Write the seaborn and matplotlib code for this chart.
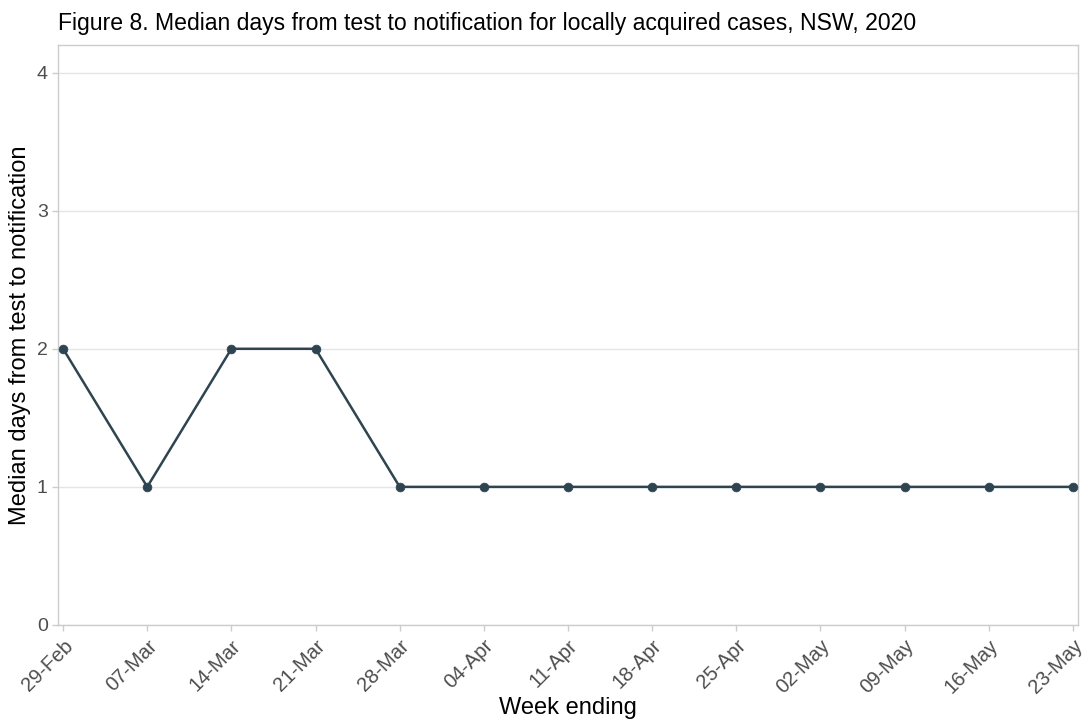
import matplotlib
matplotlib.use("Agg")
import matplotlib.pyplot as plt
import seaborn as sns
import pandas as pd

weeks = ["29-Feb", "07-Mar", "14-Mar", "21-Mar", "28-Mar", "04-Apr", "11-Apr",
         "18-Apr", "25-Apr", "02-May", "09-May", "16-May", "23-May"]
median_days = [2, 1, 2, 2, 1, 1, 1, 1, 1, 1, 1, 1, 1]
y_ticks = [0, 1, 2, 3, 4]

df = pd.DataFrame({"week": weeks, "days": median_days, "pos": range(len(weeks))})

sns.set_theme(style="white")
plt.rcParams["font.family"] = ["Liberation Sans", "DejaVu Sans"]

fig = plt.figure(figsize=(10.85, 7.2), dpi=100)
ax = fig.add_axes([0.0535, 0.132, 0.94, 0.8055])

color = "#2E4450"
sns.lineplot(data=df, x="pos", y="days", ax=ax, color=color, linewidth=1.8)
sns.scatterplot(data=df, x="pos", y="days", ax=ax, color=color, s=40, edgecolor=color, zorder=3)

ax.set_xlim(-0.06, len(weeks) - 1 + 0.06)
ax.set_ylim(0, 4.2)
ax.set_yticks(y_ticks)
ax.set_yticklabels([str(t) for t in y_ticks])
ax.set_xticks(range(len(weeks)))
ax.set_xticklabels(weeks, rotation=45, ha="right", rotation_mode="anchor")

ax.grid(axis="y", color="#E5E5E5", linewidth=1)
ax.set_axisbelow(True)
for s in ax.spines.values():
    s.set_color("#CCCCCC")
    s.set_linewidth(1)

ax.tick_params(axis="both", colors="#CCCCCC", labelcolor="#4D4D4D", labelsize=14,
               length=4, width=1, bottom=True, left=True)
ax.tick_params(axis="x", pad=4, labelsize=14.5)

ax.set_xlabel("Week ending", fontsize=17, color="black")
ax.xaxis.set_label_coords(0.5, -0.125)
ax.set_ylabel("Median days from test to notification", fontsize=17, color="black", labelpad=4)
fig.text(0.053, 0.952, "Figure 8. Median days from test to notification for locally acquired cases, NSW, 2020",
         fontsize=16.6, color="black", ha="left", va="bottom")

fig.savefig("out.png", dpi=100)
